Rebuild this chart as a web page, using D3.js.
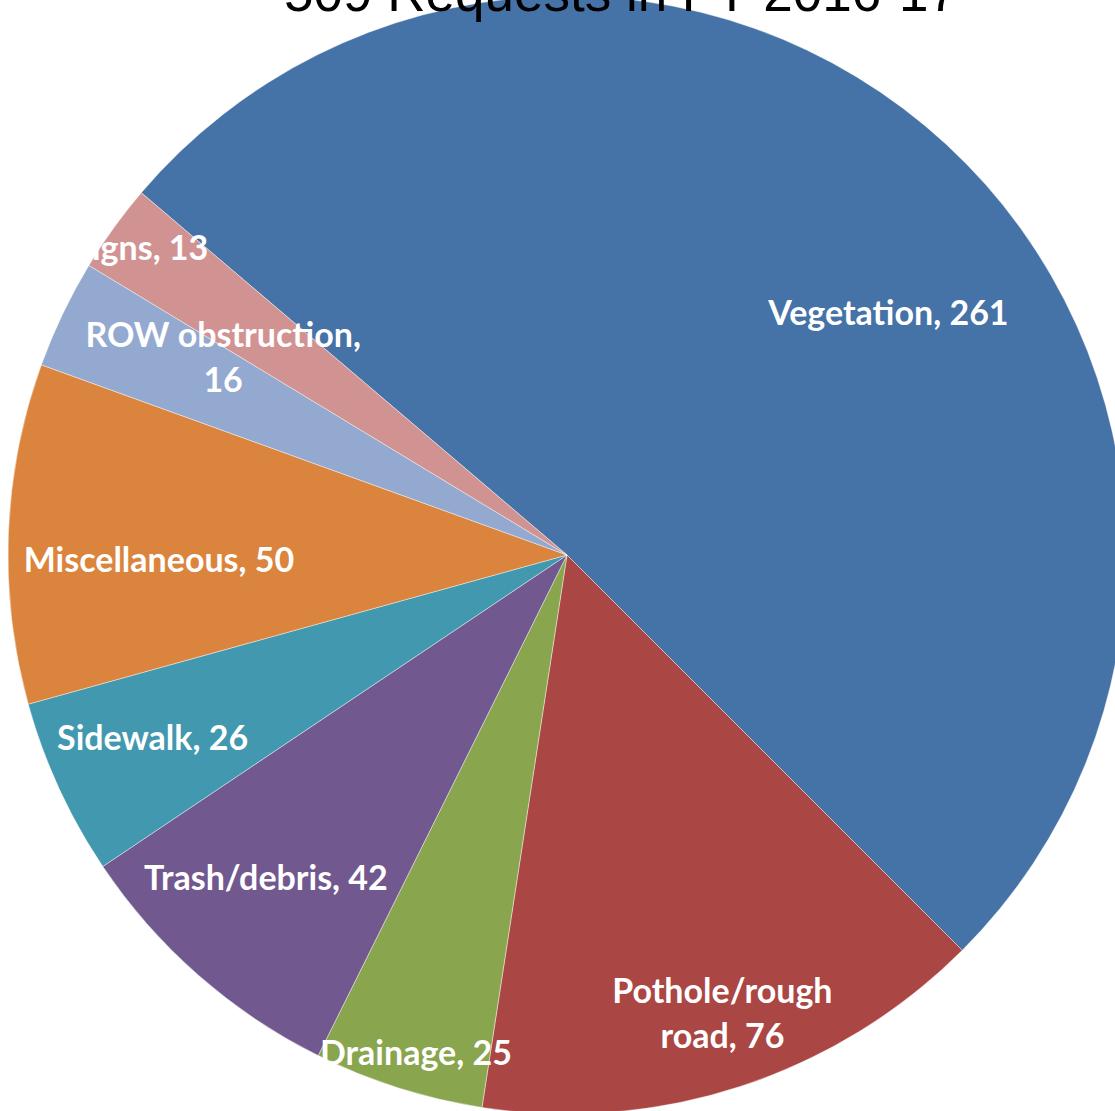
<!DOCTYPE html>
<html>
<head>
<meta charset="utf-8">
<script src="https://cdn.jsdelivr.net/npm/d3@7"></script>
<style>
  html, body { margin: 0; padding: 0; background: #fff; overflow: hidden; }
  svg { display: block; }
</style>
</head>
<body>
<svg id="chart" width="1115" height="1111"></svg>
<script>
// Service requests by category, FY 2016-17
const categories = ["Vegetation", "Pothole/rough road", "Drainage", "Trash/debris",
                    "Sidewalk", "Miscellaneous", "ROW obstruction", "Signs"];
const requests = [261, 76, 25, 42, 26, 50, 16, 13];
const labelLines = [
  ["Vegetation, 261"],
  ["Pothole/rough", "road, 76"],
  ["Drainage, 25"],
  ["Trash/debris, 42"],
  ["Sidewalk, 26"],
  ["Miscellaneous, 50"],
  ["ROW obstruction,", "16"],
  ["Signs, 13"]
];
const sliceColors = ["#4572A7", "#AA4643", "#89A54E", "#71588F",
                     "#4198AF", "#DB843D", "#93A9CF", "#D19392"];
const titleText = d3.sum(requests) + " Requests in FY 2016-17";

// Layout
const W = 1115, H = 1111;
const cx = 567, cy = 555, R = 559;
const startDeg = -49.6;
// label placement: [fraction of radius, angle nudge in degrees]
const labelPlace = [[0.72, 10.3], [0.866, -0.6], [0.93, -0.7], [0.79, 1.7],
                    [0.81, 0.9], [0.73, -2.9], [0.71, 4.4], [0.94, 0]];

const svg = d3.select("#chart");
const toRad = d => d * Math.PI / 180;

const pie = d3.pie()
  .sort(null)
  .value(d => d)
  .startAngle(toRad(startDeg))
  .endAngle(toRad(startDeg) + 2 * Math.PI);

const arcs = pie(requests);
const arc = d3.arc().innerRadius(0).outerRadius(R);

const g = svg.append("g").attr("transform", `translate(${cx},${cy})`);

g.selectAll("path.slice")
  .data(arcs)
  .join("path")
  .attr("class", "slice")
  .attr("d", arc)
  .attr("fill", (d, i) => sliceColors[i])
  .attr("stroke", "#ffffff")
  .attr("stroke-opacity", 0.6)
  .attr("stroke-width", 0.7);

// Data labels
const lineH = 45;
g.selectAll("text.lbl")
  .data(arcs)
  .join("text")
  .attr("class", "lbl")
  .attr("text-anchor", "middle")
  .attr("fill", "#ffffff")
  .attr("font-family", "Lato, 'Open Sans', sans-serif")
  .attr("font-weight", 700)
  .attr("font-size", 34)
  .each(function (d, i) {
    const a = (d.startAngle + d.endAngle) / 2 + toRad(labelPlace[i][1]);
    const r = R * labelPlace[i][0];
    const x = Math.sin(a) * r, y = -Math.cos(a) * r;
    const lines = labelLines[i];
    const t = d3.select(this);
    lines.forEach((ln, k) => {
      t.append("tspan")
        .attr("x", x)
        .attr("y", y + (k - (lines.length - 1) / 2) * lineH)
        .attr("dy", "0.36em")
        .text(ln);
    });
  });

// Title (sits above the pie)
svg.append("text")
  .attr("x", 621)
  .attr("y", 11)
  .attr("text-anchor", "middle")
  .attr("font-family", "'Liberation Sans', Arial, sans-serif")
  .attr("font-size", 53)
  .attr("fill", "#000")
  .text(titleText);
</script>
</body>
</html>
